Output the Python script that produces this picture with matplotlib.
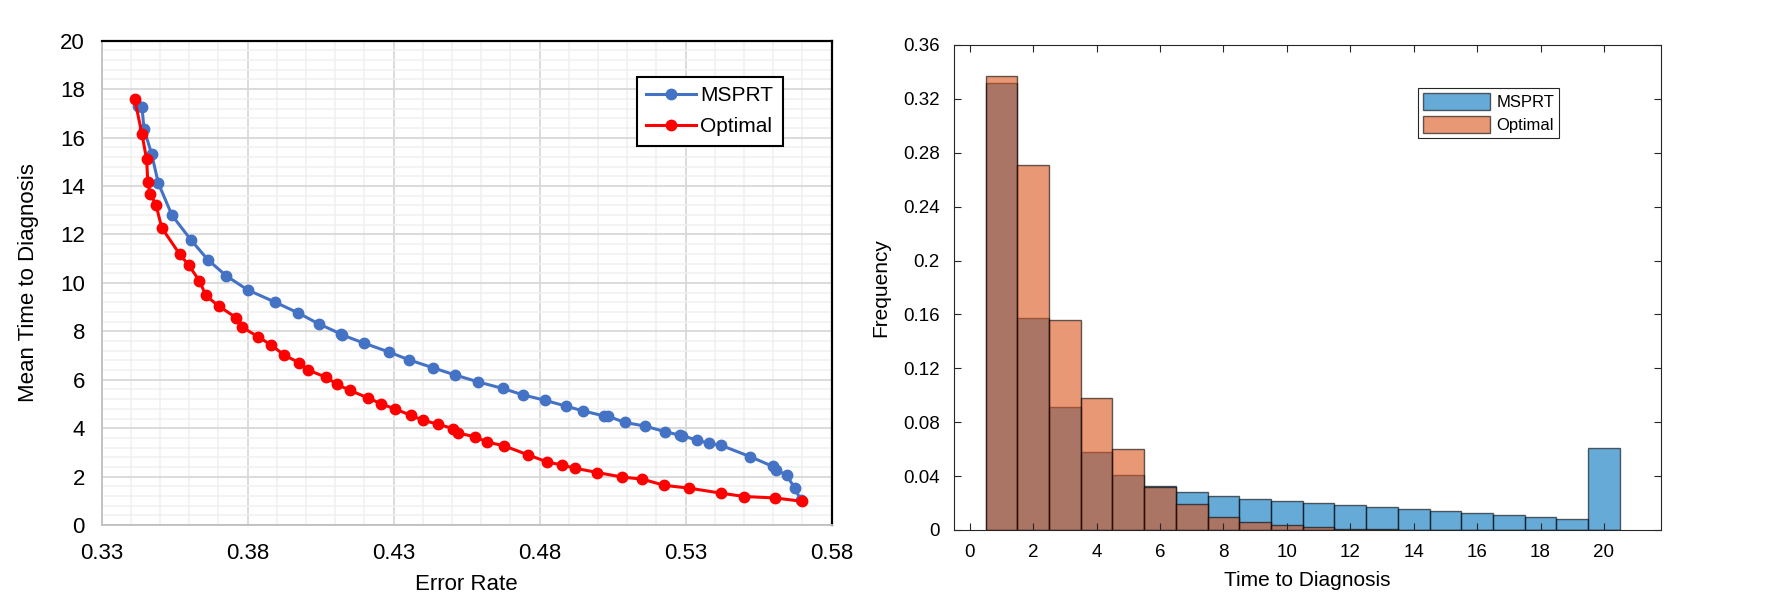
import numpy as np
import matplotlib
matplotlib.use("Agg")
from matplotlib import pyplot as plt
from matplotlib.ticker import MultipleLocator, FormatStrFormatter

plt.rcParams['font.family'] = ['Liberation Sans', 'DejaVu Sans']

# left panel: error rate vs mean time to diagnosis
msprt_err = [0.3425, 0.3438, 0.3445, 0.3471, 0.3494, 0.3541, 0.3606, 0.3664, 0.3727,
             0.3800, 0.3893, 0.3973, 0.4043, 0.4118, 0.4124, 0.4197, 0.4283, 0.4351,
             0.4436, 0.4510, 0.4590, 0.4674, 0.4742, 0.4819, 0.4891, 0.4947, 0.5019,
             0.5035, 0.5091, 0.5160, 0.5229, 0.5281, 0.5289, 0.5338, 0.5381, 0.5420,
             0.5522, 0.5599, 0.5611, 0.5646, 0.5673, 0.5695]
msprt_time = [17.30, 17.28, 16.35, 15.33, 14.12, 12.79, 11.77, 10.95, 10.29,
              9.71, 9.21, 8.76, 8.31, 7.90, 7.85, 7.52, 7.15, 6.83,
              6.49, 6.20, 5.91, 5.64, 5.38, 5.15, 4.91, 4.72, 4.51,
              4.49, 4.24, 4.09, 3.86, 3.71, 3.69, 3.51, 3.37, 3.30,
              2.82, 2.42, 2.28, 2.05, 1.54, 1.02]

opt_err = [0.3413, 0.3438, 0.3454, 0.3458, 0.3466, 0.3486, 0.3506, 0.3567, 0.3599,
           0.3635, 0.3657, 0.3702, 0.3760, 0.3780, 0.3835, 0.3880, 0.3925, 0.3977,
           0.4006, 0.4069, 0.4106, 0.4149, 0.4212, 0.4257, 0.4303, 0.4358, 0.4399,
           0.4451, 0.4504, 0.4522, 0.4580, 0.4620, 0.4679, 0.4760, 0.4825, 0.4876,
           0.4921, 0.4998, 0.5083, 0.5151, 0.5227, 0.5310, 0.5420, 0.5501, 0.5607,
           0.5700]
opt_time = [17.60, 16.14, 15.10, 14.15, 13.69, 13.22, 12.27, 11.19, 10.72,
            10.08, 9.48, 9.03, 8.57, 8.18, 7.78, 7.44, 7.02, 6.70,
            6.41, 6.10, 5.81, 5.57, 5.25, 5.01, 4.80, 4.54, 4.33,
            4.17, 3.98, 3.80, 3.64, 3.43, 3.27, 2.90, 2.61, 2.48,
            2.35, 2.17, 1.98, 1.90, 1.64, 1.53, 1.32, 1.18, 1.12,
            0.98]

err_ticks = [0.33, 0.38, 0.43, 0.48, 0.53, 0.58]

# right panel: histogram of time to diagnosis
bins = list(range(1, 21))
msprt_freq = [0.332, 0.157, 0.091, 0.058, 0.041, 0.033, 0.028, 0.025, 0.023, 0.0215,
              0.0198, 0.0186, 0.0168, 0.0153, 0.0139, 0.0125, 0.011, 0.0095, 0.0085, 0.061]
opt_freq = [0.337, 0.271, 0.156, 0.098, 0.060, 0.032, 0.019, 0.010, 0.006, 0.0035,
            0.002, 0.001, 0.0005, 0.0003, 0.0002, 0.0001, 0.0001, 0.0, 0.0, 0.0]

fig = plt.figure(figsize=(17.68, 6.12), dpi=100)

# ---- left (Excel style) ----
ax1 = fig.add_axes([0.0575, 0.142, 0.4129, 0.7915])
ax1.plot(msprt_err, msprt_time, '-o', color='#4472C4', lw=2.2, ms=7.5, label='MSPRT', zorder=3)
ax1.plot(opt_err, opt_time, '-o', color='#FF0000', lw=2.2, ms=7.5, label='Optimal', zorder=4)
ax1.set_xlim(0.33, 0.58)
ax1.set_ylim(0, 20)
ax1.set_xticks(err_ticks)
ax1.set_xticks(np.linspace(0.33, 0.58, 26), minor=True)
ax1.yaxis.set_major_locator(MultipleLocator(2))
ax1.yaxis.set_minor_locator(MultipleLocator(0.4))
ax1.xaxis.set_major_formatter(FormatStrFormatter('%.2f'))
ax1.grid(which='major', color='#D9D9D9', lw=1.3)
ax1.grid(which='minor', color='#F0F0F0', lw=1.1)
ax1.set_axisbelow(True)
ax1.tick_params(which='both', length=0, labelsize=16)
ax1.tick_params(axis='x', pad=13)
ax1.tick_params(axis='y', pad=12)
for s in ['left', 'bottom']:
    ax1.spines[s].set_color('#BFBFBF')
    ax1.spines[s].set_linewidth(1.3)
for s in ['top', 'right']:
    ax1.spines[s].set_color('black')
    ax1.spines[s].set_linewidth(1.6)
ax1.set_xlabel('Error Rate', fontsize=16, labelpad=7)
ax1.set_ylabel('Mean Time to Diagnosis', fontsize=16, labelpad=15)
leg1 = ax1.legend(loc='upper right', bbox_to_anchor=(0.933, 0.926), fontsize=15,
                  fancybox=False, framealpha=1, edgecolor='black', handlelength=2.4,
                  borderpad=0.45, labelspacing=0.6, handletextpad=0.2, borderaxespad=0)
leg1.get_frame().set_linewidth(1.5)

# ---- right (MATLAB style) ----
ax2 = fig.add_axes([0.5395, 0.134, 0.4, 0.7925])
ax2.bar(bins, msprt_freq, width=1, color='#0072BD', alpha=0.6, edgecolor='black',
        linewidth=1.0, label='MSPRT')
ax2.bar(bins, opt_freq, width=1, color='#D95319', alpha=0.6, edgecolor='black',
        linewidth=1.0, label='Optimal')
ax2.set_xlim(-0.5, 21.8)
ax2.set_ylim(0, 0.36)
ax2.set_xticks(range(0, 21, 2))
ax2.set_yticks(np.arange(0, 0.3601, 0.04))
ax2.yaxis.set_major_formatter(FormatStrFormatter('%g'))
ax2.tick_params(direction='in', length=5, top=True, right=True, labelsize=13.5,
                color='#262626', width=0.8)
ax2.tick_params(axis='x', pad=10)
ax2.tick_params(axis='y', pad=10)
for s in ax2.spines.values():
    s.set_color('#262626')
    s.set_linewidth(0.8)
ax2.set_xlabel('Time to Diagnosis', fontsize=15, labelpad=7)
ax2.set_ylabel('Frequency', fontsize=15, labelpad=9)
leg2 = ax2.legend(loc='upper right', bbox_to_anchor=(0.856, 0.911), fontsize=12,
                  fancybox=False, framealpha=1, edgecolor='#262626', handlelength=4.0,
                  handleheight=1.2, borderpad=0.3, labelspacing=0.35, handletextpad=0.4,
                  borderaxespad=0)
leg2.get_frame().set_linewidth(0.8)

fig.savefig('out.png', dpi=100)
